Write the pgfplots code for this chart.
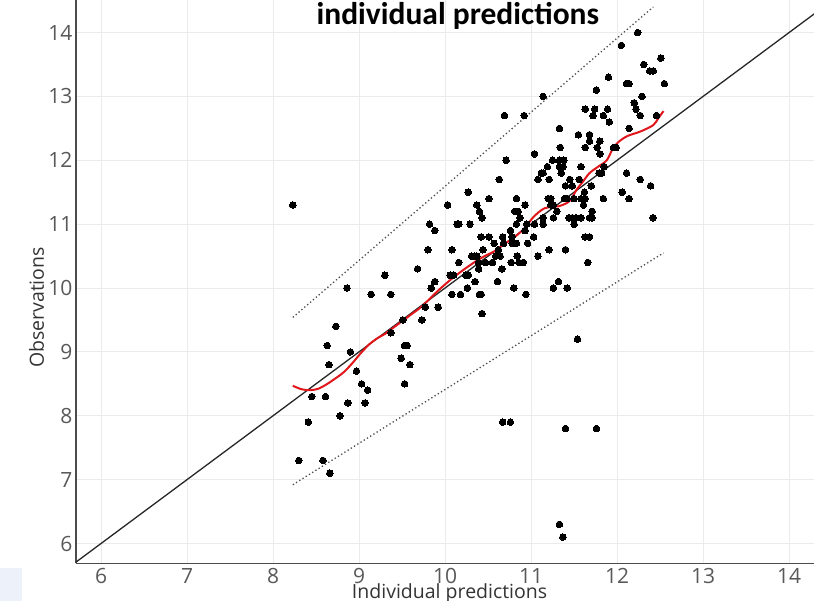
\documentclass[border=0pt]{standalone}
\usepackage{fontspec}
\setmainfont{Open Sans}
\newfontfamily\titlefont{Carlito}
\usepackage{pgfplots}
\usepackage{pgfplotstable}
\pgfplotsset{compat=1.18}
\definecolor{gridc}{HTML}{EBEBEB}
\definecolor{tickc}{HTML}{595959}
\definecolor{loessred}{HTML}{E0161B}
\definecolor{bluebox}{HTML}{EDF1FA}

\pgfplotstableread{
x y
12.24 14.0
12.05 13.8
12.51 13.6
12.31 13.5
12.38 13.4
12.42 13.4
11.90 13.3
12.11 13.2
12.14 13.2
12.55 13.2
11.76 13.1
11.14 13.0
12.29 13.0
12.20 12.9
11.63 12.8
11.74 12.8
11.89 12.8
12.22 12.8
10.69 12.7
10.92 12.7
11.72 12.7
11.84 12.7
12.27 12.7
12.46 12.7
11.91 12.6
11.33 12.5
12.14 12.5
11.55 12.4
11.68 12.4
11.68 12.3
11.80 12.3
11.34 12.2
11.63 12.2
11.77 12.2
11.96 12.2
11.99 12.2
11.04 12.1
11.80 12.1
10.71 12.0
11.25 12.0
11.33 12.0
11.38 12.0
11.19 11.9
11.33 11.9
11.37 11.9
11.58 11.9
11.85 11.9
11.12 11.8
11.14 11.8
11.35 11.8
11.79 11.8
11.82 11.8
12.11 11.8
10.63 11.7
11.08 11.7
11.21 11.7
11.45 11.7
11.56 11.7
12.27 11.7
11.40 11.6
11.48 11.6
11.70 11.6
12.39 11.6
10.27 11.5
11.62 11.5
12.06 11.5
10.51 11.4
10.83 11.4
11.20 11.4
11.23 11.4
11.39 11.4
11.42 11.4
11.50 11.4
11.58 11.4
11.63 11.4
11.84 11.4
12.14 11.4
8.23 11.3
10.03 11.3
10.37 11.3
10.93 11.3
11.23 11.3
11.26 11.3
11.61 11.3
10.40 11.2
10.81 11.2
10.85 11.2
11.30 11.2
11.71 11.2
10.43 11.1
10.87 11.1
11.14 11.1
11.26 11.1
11.44 11.1
11.48 11.1
11.52 11.1
11.58 11.1
11.68 11.1
11.71 11.1
12.42 11.1
9.82 11.0
10.14 11.0
10.16 11.0
10.29 11.0
10.83 11.0
10.95 11.0
11.04 11.0
11.14 11.0
11.50 11.0
9.88 10.9
10.76 10.9
10.93 10.9
10.42 10.8
10.51 10.8
10.67 10.8
10.78 10.8
11.03 10.8
11.63 10.8
11.68 10.8
10.57 10.7
10.68 10.7
10.78 10.7
10.83 10.7
10.96 10.7
9.80 10.6
10.08 10.6
10.44 10.6
10.62 10.6
11.21 10.6
11.40 10.6
10.31 10.5
10.34 10.5
10.37 10.5
10.59 10.5
10.64 10.5
10.84 10.5
11.08 10.5
10.16 10.4
10.39 10.4
10.47 10.4
10.55 10.4
10.77 10.4
10.86 10.4
10.91 10.4
11.66 10.4
9.68 10.3
10.39 10.3
10.66 10.3
9.30 10.2
10.06 10.2
10.10 10.2
10.24 10.2
10.27 10.2
9.88 10.1
10.35 10.1
10.61 10.1
11.32 10.1
8.86 10.0
9.84 10.0
10.26 10.0
10.80 10.0
11.26 10.0
11.42 10.0
9.14 9.9
9.37 9.9
10.08 9.9
10.18 9.9
10.40 9.9
10.42 9.9
10.94 9.9
9.77 9.7
9.92 9.7
10.43 9.6
9.51 9.5
9.73 9.5
8.73 9.4
9.37 9.3
11.54 9.2
8.63 9.1
9.53 9.1
9.56 9.1
8.90 9.0
9.49 8.9
8.65 8.8
9.59 8.8
8.97 8.7
9.03 8.5
9.53 8.5
9.10 8.4
8.45 8.3
8.61 8.3
8.87 8.2
9.07 8.2
8.78 8.0
8.41 7.9
10.67 7.9
10.76 7.9
11.40 7.8
11.76 7.8
8.30 7.3
8.58 7.3
8.66 7.1
11.33 6.3
11.37 6.1
}\obsdata

\begin{document}
\begin{tikzpicture}
\begin{axis}[
  name=ax,
  scale only axis, width=738pt, height=563.5pt,
  xmin=5.709, xmax=14.29, ymin=5.687, ymax=14.51,
  axis x line*=bottom, axis y line*=left,
  axis line style={-, draw=black!70, line width=1.1pt},
  xtick={6,...,14}, ytick={6,...,14},
  major tick length=0pt,
  grid=major, major grid style={gridc, line width=1pt},
  /pgf/number format/assume math mode=true,
  tick label style={font=\fontsize{21}{21}\selectfont, text=tickc, inner sep=0pt},
  xticklabel style={anchor=north, yshift=-4.8pt},
  yticklabel style={anchor=east, xshift=-3.5pt},
  xlabel={Individual predictions}, ylabel={Observations},
  every axis x label/.style={at={(rel axis cs:0.5062,0)}, yshift=-34.8pt, anchor=base, inner sep=0pt, font=\fontsize{19.5}{19.5}\selectfont, text=black!80},
  every axis y label/.style={at={(rel axis cs:0,0.4543)}, xshift=-32pt, rotate=90, anchor=base, inner sep=0pt, font=\fontsize{19.5}{19.5}\selectfont, text=black!80},
]
\addplot[black!85, line width=1.3pt] coordinates {(5.5,5.5) (14.8,14.8)};
\addplot[black!70, line width=1.3pt, dash pattern=on 1.3pt off 2.5pt] coordinates {(8.23,9.54) (12.42,14.40)};
\addplot[black!70, line width=1.3pt, dash pattern=on 1.3pt off 2.5pt] coordinates {(8.23,6.92) (12.54,10.55)};
\addplot[only marks, mark=*, mark size=3.3pt, mark options={fill=black, draw=black, line width=0pt}] table[x=x,y=y] {\obsdata};
\addplot[loessred, line width=2pt, smooth] coordinates {
(8.23,8.47) (8.32,8.42) (8.42,8.40) (8.52,8.42) (8.62,8.49) (8.72,8.58) (8.82,8.68) (8.92,8.82) (9.02,8.98) (9.12,9.12) (9.22,9.22) (9.30,9.28) (9.40,9.38) (9.52,9.50) (9.62,9.60) (9.72,9.70) (9.82,9.83) (9.92,9.96) (10.02,10.08) (10.12,10.19) (10.24,10.31) (10.36,10.42) (10.46,10.50) (10.58,10.58) (10.68,10.68) (10.80,10.79) (10.92,10.93) (11.02,11.10) (11.10,11.20) (11.16,11.25) (11.24,11.27) (11.32,11.28) (11.40,11.32) (11.46,11.38) (11.53,11.54) (11.60,11.66) (11.68,11.80) (11.78,11.90) (11.88,12.00) (11.95,12.18) (12.02,12.29) (12.12,12.38) (12.27,12.45) (12.42,12.55) (12.48,12.66) (12.54,12.77)};
\node[font=\titlefont\bfseries\fontsize{31.5}{31.5}\selectfont, anchor=base, inner sep=0pt] at (axis cs:10.149,14.119) {individual predictions};
\end{axis}
\fill[bluebox] ([xshift=-76pt,yshift=-4.5pt]ax.south west) rectangle ([xshift=-54pt,yshift=-37.5pt]ax.south west);
\pgfresetboundingbox
\path[use as bounding box] ([xshift=-76pt,yshift=-37.5pt]ax.south west) rectangle (ax.north east);
\end{tikzpicture}
\end{document}
